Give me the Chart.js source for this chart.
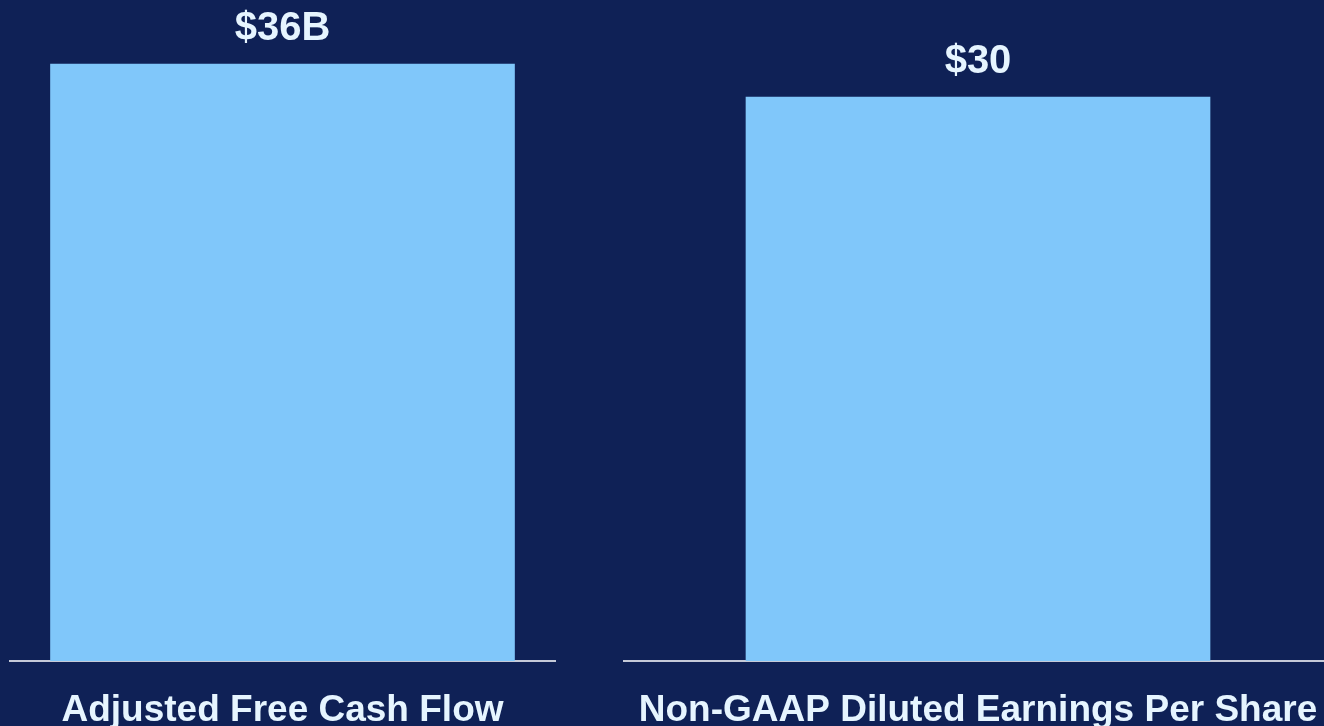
<!DOCTYPE html>
<html>
<head>
<meta charset="utf-8">
<script src="https://cdn.jsdelivr.net/npm/chart.js@4"></script>
<style>
  html, body { margin: 0; padding: 0; background: #0f2156; overflow: hidden; }
  #wrap { position: relative; width: 1324px; height: 726px; overflow: hidden; background: #0f2156; }
  .box { position: absolute; top: 0; height: 726px; }
  #b1 { left: 0; width: 600px; }
  #b2 { left: 614px; width: 728px; }
</style>
</head>
<body>
<div id="wrap">
  <div class="box" id="b1"><canvas id="c1"></canvas></div>
  <div class="box" id="b2"><canvas id="c2"></canvas></div>
</div>
<script>
const categories = ['Adjusted Free Cash Flow', 'Non-GAAP Diluted Earnings Per Share'];
const values = [36, 30];
const valueLabels = ['$36B', '$30'];
const axisMax = [39.86, 35.16];

const FONT = '"Liberation Sans", Arial, Helvetica, sans-serif';
const TEXT = '#e6f5ff';
const BAR = '#80c7fa';

const valueLabelPlugin = {
  id: 'valueLabel',
  afterDatasetsDraw(chart, args, opts) {
    const ctx = chart.ctx;
    const meta = chart.getDatasetMeta(0);
    ctx.save();
    ctx.font = 'bold 40px ' + FONT;
    ctx.fillStyle = TEXT;
    ctx.textAlign = 'center';
    ctx.textBaseline = 'alphabetic';
    meta.data.forEach((el, i) => {
      ctx.fillText(opts.labels[i], el.x, el.y - 24);
    });
    ctx.restore();
  }
};

function makeChart(id, idx, padLeft, padRight) {
  return new Chart(document.getElementById(id), {
    type: 'bar',
    data: {
      labels: [categories[idx]],
      datasets: [{
        data: [values[idx]],
        backgroundColor: BAR,
        borderWidth: 0,
        barThickness: 464
      }]
    },
    options: {
      responsive: true,
      maintainAspectRatio: false,
      animation: false,
      layout: { padding: { left: padLeft, right: padRight, top: 0, bottom: 0 } },
      plugins: {
        legend: { display: false },
        tooltip: { enabled: false },
        valueLabel: { labels: [valueLabels[idx]] }
      },
      scales: {
        x: {
          grid: { display: false, drawTicks: true, tickLength: 28 },
          border: { display: true, color: '#c5cad8', width: 2 },
          ticks: {
            color: TEXT,
            font: { family: FONT, size: 37, weight: 'bold' },
            padding: 0,
            maxRotation: 0,
            autoSkip: false
          },
          afterFit(scale) {
            scale.height = 65;
            scale.paddingLeft = 0;
            scale.paddingRight = 0;
          }
        },
        y: {
          display: false,
          min: 0,
          max: axisMax[idx]
        }
      }
    },
    plugins: [valueLabelPlugin]
  });
}

makeChart('c1', 0, 10, 45);
makeChart('c2', 1, 10, 10);
</script>
</body>
</html>
